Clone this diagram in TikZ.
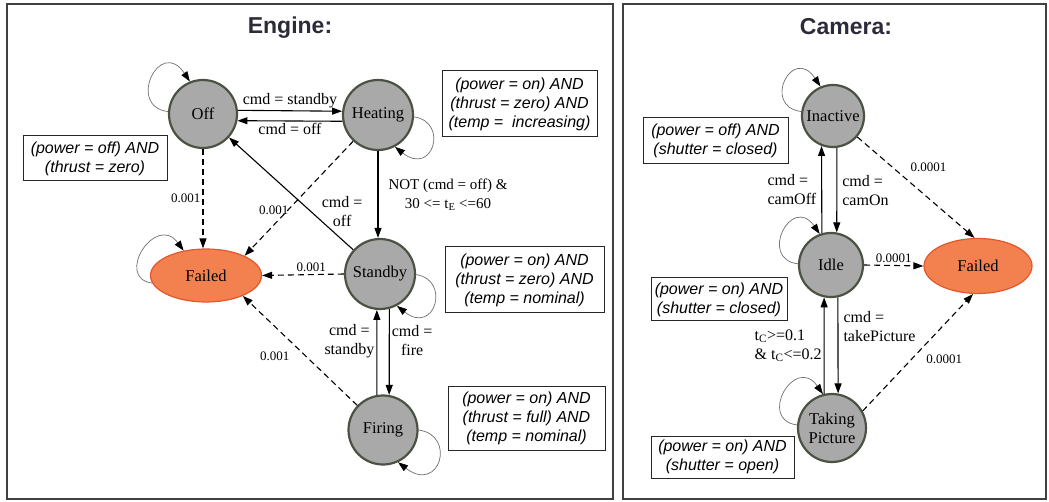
\documentclass[tikz,border=0pt]{standalone}
\usepackage{fontspec}
\setmainfont{Liberation Serif}
\newfontfamily\condfont{Liberation Sans}
\usetikzlibrary{arrows.meta,shapes.geometric}

\definecolor{stategray}{HTML}{A9A9A9}
\definecolor{stateedge}{HTML}{4A5244}
\definecolor{failfill}{HTML}{F2814F}
\definecolor{failedge}{HTML}{E5562A}
\definecolor{titleink}{HTML}{2B2B3A}
\definecolor{loopink}{HTML}{707070}

\tikzset{
  state/.style={circle, fill=stategray, draw=stateedge, line width=2.2pt,
    inner sep=0pt, align=center, font=\fontsize{16.5}{19}\selectfont},
  fail/.style={ellipse, fill=failfill, draw=failedge, line width=1.2pt,
    inner sep=0pt, minimum width=111pt, minimum height=53pt,
    font=\fontsize{16.5}{19}\selectfont},
  cond/.style={draw=black!85, line width=1pt, inner sep=0pt, align=center,
    font=\condfont\itshape\fontsize{16}{19}\selectfont},
  panel/.style={draw=black!75, line width=1.6pt},
  title/.style={font=\condfont\bfseries\fontsize{23}{27}\selectfont, text=titleink},
  tr/.style={line width=1.1pt, -{Triangle[length=10pt,width=7pt]}},
  prob/.style={tr, dash pattern=on 6pt off 4pt},
  selfloop/.style={draw=loopink, line width=0.7pt,
    -{Triangle[length=10pt,width=7pt,color=black]}},
  lbl/.style={font=\fontsize{16}{19}\selectfont, inner sep=2pt, align=center},
  plbl/.style={font=\fontsize{13}{15}\selectfont, inner sep=2pt},
}

\begin{document}
\begin{tikzpicture}[x=1pt,y=-1pt]
\useasboundingbox (0,0) rectangle (1049,502);

% panel frames
\draw[panel] (7,4) rectangle (613,499);
\draw[panel] (623,4) rectangle (1046,499);

\node[title] (engtitle) at (290,28) {Engine:};
\node[title] (camtitle) at (846,27) {Camera:};

% ---------------- engine states ----------------
\node[state, minimum size=68pt] (off)  at (203,114) {Off};
\node[state, minimum size=70pt] (heat) at (378,115) {Heating};
\node[state, minimum size=70pt] (stby) at (380,274) {Standby};
\node[state, minimum size=69pt] (fire) at (383,430) {Firing};
\node[fail] (efail) at (206,275.5) {Failed};

% engine conditions
\node[cond, minimum width=155pt, minimum height=66pt] (heatcond) at (519.5,104)
  {(power = on) AND\\(thrust = zero) AND\\(temp =\ \ increasing)};
\node[cond, minimum width=159pt, minimum height=66pt] (stbycond) at (524.5,280)
  {(power = on) AND\\(thrust = zero) AND\\(temp = nominal)};
\node[cond, minimum width=157pt, minimum height=64pt] (firecond) at (526.5,418)
  {(power = on) AND\\(thrust = full) AND\\(temp = nominal)};
\node[cond, minimum width=144pt, minimum height=45pt] (offcond) at (95,158.5)
  {(power = off) AND\\(thrust = zero)};

% engine transitions
\draw[tr] (off.6) -- node[lbl, above]{cmd = standby} (heat.174);
\draw[tr] (heat.190) -- node[lbl, below]{cmd = off} (off.-11);
\draw[tr] (heat.south) -- node[lbl, right, xshift=8pt, font=\fontsize{15}{19}\selectfont]
  {NOT (cmd = off) \&\\30 <= t\textsubscript{E} <=60} (heat.south |- stby.north);
\draw[tr] (stby) -- node[lbl, pos=.25, shift={(20,-10)}]{cmd =\\off} (off);
\draw[tr] (stby.-75) -- node[lbl, pos=.37, right]{cmd =\\fire} (fire.80);
\draw[tr] (fire.100) -- node[lbl, pos=.63, left]{cmd =\\standby} (stby.-95);

\draw[prob] (off.south) -- node[plbl, left]{0.001} (off.south |- efail.north);
\draw[prob] (heat) -- node[plbl, pos=.6, anchor=east, xshift=3pt]{0.001} (efail.27);
\draw[prob] (stby.west) -- node[plbl, pos=.4, above]{0.001} (efail.east);
\draw[prob] (fire) -- node[plbl, pos=.45, xshift=-31pt]{0.001} (efail.-29);

% engine self-loops
\draw[selfloop] (off.176) .. controls +(-42,-5) and +(-30,-45) .. (off.112);
\draw[selfloop] (heat.-3) .. controls +(35,5) and +(38,30) .. (heat.-62);
\draw[selfloop] (stby.-1) .. controls +(35,5) and +(38,30) .. (stby.-62);
\draw[selfloop] (fire.0) .. controls +(38,5) and +(42,32) .. (fire.-65);
\draw[selfloop] (efail.188) .. controls +(-38,-5) and +(-28,-38) .. (efail.132);

% ---------------- camera states ----------------
\node[state, minimum size=62pt] (inact) at (833,116) {Inactive};
\node[state, minimum size=64pt] (idle)  at (831,265) {Idle};
\node[state, minimum size=68pt] (take)  at (832,428) {Taking\\Picture};
\node[fail, minimum width=108pt, minimum height=55pt] (cfail) at (978,266) {Failed};

% camera conditions
\node[cond, minimum width=145pt, minimum height=46pt] (inactcond) at (715.5,141)
  {(power = off) AND\\(shutter = closed)};
\node[cond, minimum width=136pt, minimum height=43pt] (idlecond) at (719,299.5)
  {(power = on) AND\\(shutter = closed)};
\node[cond, minimum width=143pt, minimum height=42pt] (takecond) at (722.5,457)
  {(power = on) AND\\(shutter = open)};

% camera transitions
\draw[tr] (idle.106) -- node[lbl, left, align=left, xshift=-3pt]{cmd =\\camOff} (inact.249);
\draw[tr] (inact.-83) -- node[lbl, right, align=left, xshift=3pt]{cmd =\\camOn} (idle.80);
\draw[tr] (idle.-78) -- node[lbl, pos=.3, right, align=left, xshift=3pt]{cmd =\\takePicture} (take.80);
\draw[tr] (take.103) -- node[lbl, left, align=left]
  {t\textsubscript{C}>=0.1\\\& t\textsubscript{C}<=0.2} (idle.258);

\draw[prob] (inact) -- node[plbl, pos=.3, shift={(36,0)}]{0.0001} (cfail.97);
\draw[prob] (idle.east) -- node[plbl, above]{0.0001} (cfail.west);
\draw[prob] (take.29) -- node[plbl, pos=.44, shift={(33,0)}]{0.0001} (cfail.-100);

% camera self-loops
\draw[selfloop] (inact.172) .. controls +(-40,-5) and +(-28,-42) .. (inact.113);
\draw[selfloop] (idle.178) .. controls +(-40,-5) and +(-28,-40) .. (idle.110);
\draw[selfloop] (take.175) .. controls +(-40,-5) and +(-28,-40) .. (take.105);
\end{tikzpicture}
\end{document}
